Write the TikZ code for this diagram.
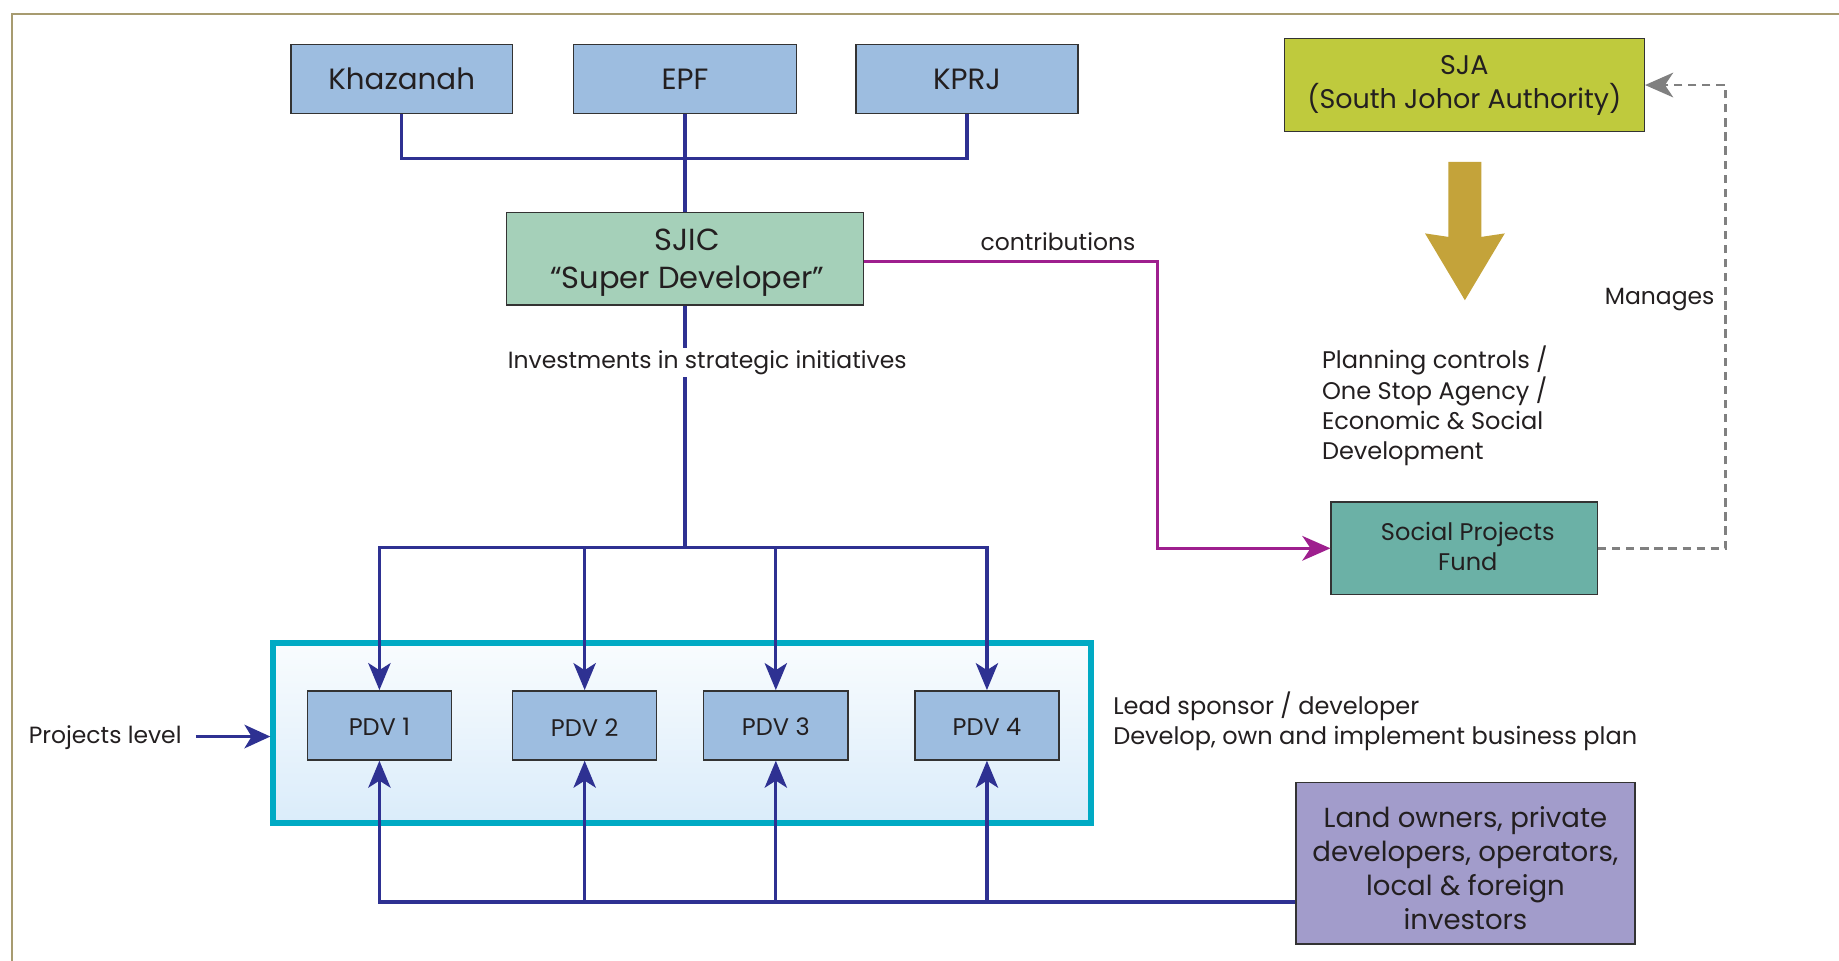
\documentclass[tikz,border=0pt]{standalone}
\usepackage{fontspec}
\setmainfont{Poppins}
\usetikzlibrary{arrows.meta,calc}
\definecolor{frame}{HTML}{A79B70}
\definecolor{bluebox}{HTML}{9DBDE0}
\definecolor{sjicc}{HTML}{A5D0B9}
\definecolor{sjac}{HTML}{BFCA3D}
\definecolor{spfc}{HTML}{6BB1A6}
\definecolor{landc}{HTML}{A29CCB}
\definecolor{navy}{HTML}{2E3192}
\definecolor{mag}{HTML}{9E1F8E}
\definecolor{grayl}{HTML}{808080}
\definecolor{gold}{HTML}{C4A33A}
\definecolor{cyanb}{HTML}{00AAC4}
\definecolor{gradtop}{HTML}{F9FCFE}
\definecolor{gradbot}{HTML}{DAECFA}
\definecolor{txt}{HTML}{231F20}
\tikzset{
  box/.style={draw=black!80, line width=1.2pt, text=txt, align=center, inner sep=0pt},
  navyline/.style={draw=navy, line width=2.7pt},
  navyarrow/.style={navyline, -{Stealth[length=23pt,width=19pt,inset=6pt]}},
  lbl/.style={text=txt, inner sep=0pt, font=\fontsize{20}{26}\selectfont}
}
\begin{document}
\begin{tikzpicture}[x=1pt,y=-1pt]
\useasboundingbox (0,0) rectangle (1568,819);
\fill[white] (0,0) rectangle (1568,819);
% frame
\draw[frame, line width=1.5pt] (10,819) -- (10,12) -- (1568,12);

% top boxes
\node[box, fill=bluebox, minimum width=189pt, minimum height=59pt, font=\fontsize{25}{30}\selectfont] (kh) at (342.5,67.5) {Khazanah};
\node[box, fill=bluebox, minimum width=190pt, minimum height=59pt, font=\fontsize{25}{30}\selectfont] (epf) at (584,67.5) {EPF};
\node[box, fill=bluebox, minimum width=189pt, minimum height=59pt, font=\fontsize{25}{30}\selectfont] (kp) at (824.5,67.5) {KPRJ};
\node[box, fill=sjicc, minimum width=304pt, minimum height=79pt] (sjic) at (584,220.5) {};
\node[text=txt, align=center, inner sep=0pt, font=\fontsize{26}{33}\selectfont] (sjict) at (586,224) {SJIC\\“Super Developer”};
\node[box, fill=sjac, minimum width=307pt, minimum height=79pt, font=\fontsize{23}{29}\selectfont] (sja) at (1248.5,72.5) {SJA\\(South Johor Authority)};
\node[box, fill=spfc, minimum width=227pt, minimum height=79pt, font=\fontsize{20}{26}\selectfont] (spf) at (1248.5,467.5) {};
\node[text=txt, align=center, inner sep=0pt, font=\fontsize{20.5}{26}\selectfont] (spft) at (1251.5,466) {Social Projects\\Fund};
\node[box, fill=landc, minimum width=289pt, minimum height=138pt] (land) at (1249.5,736) {};
\node[text=txt, align=center, inner sep=0pt, font=\fontsize{23.5}{29}\selectfont] (landt) at (1249.5,740.5) {Land owners, private\\developers, operators,\\local \& foreign\\investors};

% outer project box
\node[draw=cyanb, line width=5pt, top color=gradtop, bottom color=gradbot, minimum width=697pt, minimum height=154pt, inner sep=0pt] (outer) at (581.5,625) {};

% PDVs
\foreach \i/\x in {1/323.5,2/498.5,3/661.5,4/841.5}{
  \node[box, fill=bluebox, minimum width=123pt, minimum height=59pt, font=\fontsize{20.5}{24}\selectfont] (pdv\i) at (\x,618.5) {};
  \node[text=txt, inner sep=0pt, font=\fontsize{20.5}{24}\selectfont] (pdvt\i) at (\x,620) {PDV \i};
}

% top tree
\coordinate (t1) at (584,135);
\draw[navyline] (kh.south) |- (t1) -| (kp.south);
\draw[navyline] (epf.south) -- (sjic.north);

% investments
\coordinate (b) at (584,467);
\draw[navyline] (sjic.south) -- (b);
\node[lbl, fill=white, inner sep=2pt] (inv) at (603,309) {Investments in strategic initiatives};
\foreach \i in {1,2,3,4}{
  \draw[navyarrow] (b) -| (pdv\i.north);
}

% bottom bus
\coordinate (lb) at (land.west |- 0,769);
\foreach \i in {1,2,3,4}{
  \draw[navyarrow] (lb) -| (pdv\i.south);
}

% projects level
\node[lbl, anchor=east] (pl) at (155,629) {Projects level};
\draw[draw=navy, line width=3pt, -{Stealth[length=22pt,width=20pt,inset=6pt]}] ($(pl.east)+(12,-1)$) -- (outer.west |- 0,628);

% lead sponsor
\node[lbl, anchor=west, align=left, font=\fontsize{20.5}{26}\selectfont] (lead) at (949,615) {Lead sponsor / developer\\Develop, own and implement business plan};

% contributions
\coordinate (m1) at (987,223);
\draw[draw=mag, line width=2.4pt, -{Stealth[length=24pt,width=21pt,inset=7pt]}] (sjic.east |- m1) -- (m1) |- (spf.west);
\node[lbl] (contrib) at (902,206) {contributions};

% manages
\coordinate (g1) at (1471,467.5);
\draw[draw=grayl, line width=2.4pt, dash pattern=on 7pt off 5pt, -{Stealth[length=24pt,width=21pt,inset=7pt]}] (spf.east) -- (g1) |- (sja.east);
\node[lbl, anchor=east] (man) at (1462,255) {Manages};

% gold arrow
\fill[gold] (1235,138) -- (1263,138) -- (1263,202) -- (1283,199) -- (1249,256) -- (1215,199) -- (1235,202) -- cycle;

% planning
\node[lbl, anchor=north west, align=left, font=\fontsize{20.5}{25.7}\selectfont] (plan) at (1127,295) {Planning controls /\\One Stop Agency /\\Economic \& Social\\Development};
\end{tikzpicture}
\end{document}
